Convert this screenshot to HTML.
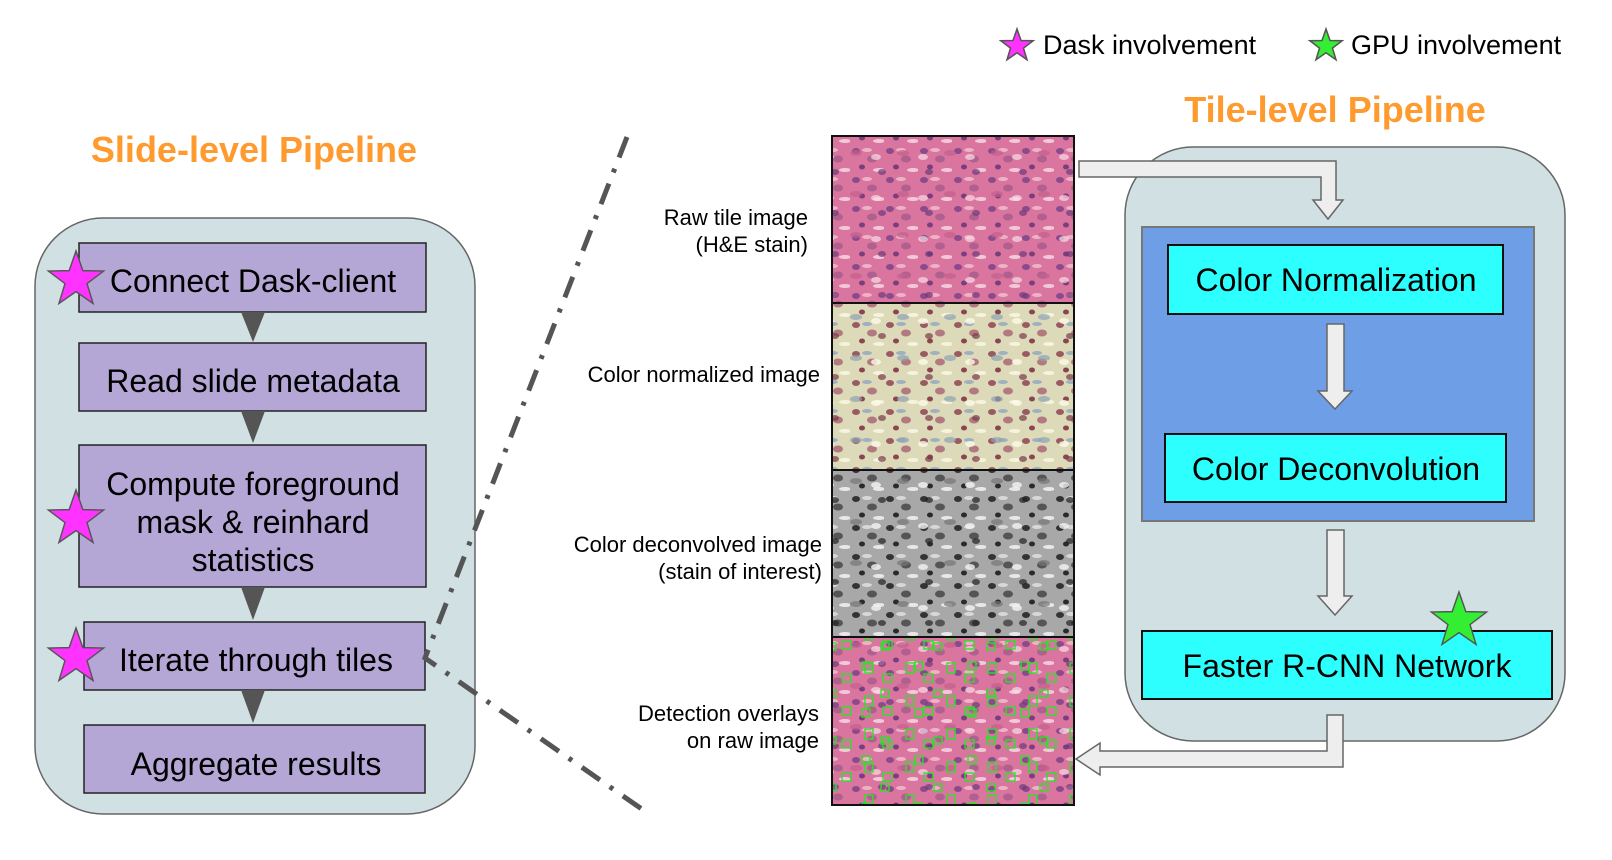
<!DOCTYPE html>
<html><head><meta charset="utf-8">
<style>
html,body{margin:0;padding:0;background:#fff;width:1612px;height:860px;overflow:hidden}
svg text{font-family:"Liberation Sans",Arial,sans-serif}
</style></head>
<body>
<svg width="1612" height="860" viewBox="0 0 1612 860" xmlns="http://www.w3.org/2000/svg">
<defs>
<polygon id="st" points="0,-1 0.235,-0.324 0.951,-0.309 0.380,0.124 0.588,0.809 0,0.4 -0.588,0.809 -0.380,0.124 -0.951,-0.309 -0.235,-0.324"/>
<pattern id="pinkA" width="34" height="29" patternUnits="userSpaceOnUse">
<rect width="34" height="29" fill="#d9759e"/>
<ellipse cx="6" cy="6" rx="4" ry="3" fill="#8a4a8c"/>
<ellipse cx="22" cy="14" rx="5" ry="3.5" fill="#b0608f"/>
<ellipse cx="12" cy="22" rx="3" ry="2.5" fill="#7a3d7e"/>
<ellipse cx="29" cy="25" rx="6" ry="2" fill="#f2c9d8"/>
<ellipse cx="17" cy="5" rx="5" ry="2" fill="#ecb3c7"/>
</pattern>
<pattern id="pinkB" width="47" height="41" patternUnits="userSpaceOnUse">
<ellipse cx="10" cy="30" rx="6" ry="3" fill="#c35f8c" opacity=".7"/>
<ellipse cx="36" cy="8" rx="4" ry="3" fill="#6d3a7c" opacity=".7"/>
<ellipse cx="30" cy="34" rx="5" ry="3" fill="#f7dde6" opacity=".7"/>
</pattern>
<pattern id="normA" width="34" height="29" patternUnits="userSpaceOnUse">
<rect width="34" height="29" fill="#dcdab8"/>
<ellipse cx="6" cy="6" rx="4" ry="3" fill="#9a5a62"/>
<ellipse cx="22" cy="14" rx="5" ry="3.5" fill="#b27a80"/>
<ellipse cx="12" cy="22" rx="3" ry="2.5" fill="#8a4550"/>
<ellipse cx="29" cy="25" rx="6" ry="2" fill="#f5f3dc"/>
<ellipse cx="17" cy="5" rx="5" ry="2" fill="#9fb0bf"/>
</pattern>
<pattern id="normB" width="47" height="41" patternUnits="userSpaceOnUse">
<ellipse cx="10" cy="30" rx="6" ry="3" fill="#8fa3b3" opacity=".7"/>
<ellipse cx="36" cy="8" rx="4" ry="3" fill="#7a3a48" opacity=".7"/>
<ellipse cx="30" cy="34" rx="5" ry="3" fill="#fbfae8" opacity=".8"/>
</pattern>
<pattern id="grayA" width="34" height="29" patternUnits="userSpaceOnUse">
<rect width="34" height="29" fill="#a8a8a8"/>
<ellipse cx="6" cy="6" rx="4" ry="3" fill="#333"/>
<ellipse cx="22" cy="14" rx="5" ry="3.5" fill="#555"/>
<ellipse cx="12" cy="22" rx="3" ry="2.5" fill="#2a2a2a"/>
<ellipse cx="29" cy="25" rx="6" ry="2" fill="#e8e8e8"/>
<ellipse cx="17" cy="5" rx="5" ry="2" fill="#d8d8d8"/>
</pattern>
<pattern id="grayB" width="47" height="41" patternUnits="userSpaceOnUse">
<ellipse cx="10" cy="30" rx="6" ry="3" fill="#777" opacity=".7"/>
<ellipse cx="36" cy="8" rx="4" ry="3" fill="#222" opacity=".7"/>
<ellipse cx="30" cy="34" rx="5" ry="3" fill="#f4f4f4" opacity=".8"/>
</pattern>
<pattern id="boxes" width="41" height="33" patternUnits="userSpaceOnUse">
<rect x="4" y="3" width="8" height="10" fill="none" stroke="#22e822" stroke-width="1.3"/>
<rect x="22" y="14" width="9" height="8" fill="none" stroke="#22e822" stroke-width="1.3"/>
</pattern>
<pattern id="boxes2" width="53" height="47" patternUnits="userSpaceOnUse">
<rect x="14" y="4" width="8" height="8" fill="none" stroke="#22e822" stroke-width="1.3"/>
<rect x="33" y="32" width="8" height="7" fill="none" stroke="#22e822" stroke-width="1.3"/>
</pattern>
</defs>

<!-- legend -->
<use href="#st" transform="translate(1017,46) scale(17)" fill="#ff33ff" stroke="#555" stroke-width="0.09"/>
<text x="1043" y="54" font-size="27" fill="#000">Dask involvement</text>
<use href="#st" transform="translate(1326,46) scale(17)" fill="#33ee33" stroke="#555" stroke-width="0.09"/>
<text x="1351" y="54" font-size="27" fill="#000">GPU involvement</text>

<!-- titles -->
<text x="254" y="162" font-size="36" font-weight="bold" fill="#ff9a2e" text-anchor="middle">Slide-level Pipeline</text>
<text x="1335" y="122" font-size="36" font-weight="bold" fill="#ff9a2e" text-anchor="middle">Tile-level Pipeline</text>

<!-- left container -->
<rect x="35" y="218" width="440" height="596" rx="68" fill="#d0e0e3" stroke="#666" stroke-width="1.5"/>
<g fill="#b4a7d6" stroke="#222" stroke-width="1.5">
<rect x="79" y="243" width="347" height="69"/>
<rect x="79" y="343" width="347" height="68"/>
<rect x="79" y="445" width="347" height="142"/>
<rect x="84" y="622" width="341" height="68"/>
<rect x="84" y="725" width="341" height="68"/>
</g>
<g fill="#555">
<polygon points="241,312 265,312 253,342"/>
<polygon points="241,411 265,411 253,443"/>
<polygon points="241,587 265,587 253,620"/>
<polygon points="241,690 265,690 253,723"/>
</g>
<g font-size="32" fill="#000" text-anchor="middle">
<text x="253" y="292">Connect Dask-client</text>
<text x="253" y="392">Read slide metadata</text>
<text x="253" y="495">Compute foreground</text>
<text x="253" y="533">mask &amp; reinhard</text>
<text x="253" y="571">statistics</text>
<text x="256" y="671">Iterate through tiles</text>
<text x="256" y="775">Aggregate results</text>
</g>
<g fill="#ff33ff" stroke="#555" stroke-width="0.05">
<use href="#st" transform="translate(76,280) scale(29)"/>
<use href="#st" transform="translate(76,519) scale(29)"/>
<use href="#st" transform="translate(76,657) scale(29)"/>
</g>

<!-- dash dot lines -->
<polyline points="627,137 425,658 646,812" fill="none" stroke="#555" stroke-width="5" stroke-dasharray="22,12,4,12"/>

<!-- tiles -->
<rect x="832" y="136" width="242" height="167" fill="url(#pinkA)"/>
<rect x="832" y="136" width="242" height="167" fill="url(#pinkB)"/>
<rect x="832" y="303" width="242" height="167" fill="url(#normA)"/>
<rect x="832" y="303" width="242" height="167" fill="url(#normB)"/>
<rect x="832" y="470" width="242" height="167" fill="url(#grayA)"/>
<rect x="832" y="470" width="242" height="167" fill="url(#grayB)"/>
<rect x="832" y="637" width="242" height="168" fill="url(#pinkA)"/>
<rect x="832" y="637" width="242" height="168" fill="url(#pinkB)"/>
<rect x="832" y="637" width="242" height="168" fill="url(#boxes)"/>
<rect x="832" y="637" width="242" height="168" fill="url(#boxes2)"/>
<g fill="none" stroke="#111" stroke-width="2">
<rect x="832" y="136" width="242" height="669"/>
<line x1="832" y1="303" x2="1074" y2="303"/>
<line x1="832" y1="470" x2="1074" y2="470"/>
<line x1="832" y1="637" x2="1074" y2="637"/>
</g>
<g font-size="22" fill="#000" text-anchor="end">
<text x="808" y="225">Raw tile image</text>
<text x="808" y="252">(H&amp;E stain)</text>
<text x="820" y="382">Color normalized image</text>
<text x="822" y="552">Color deconvolved image</text>
<text x="822" y="579">(stain of interest)</text>
<text x="819" y="721">Detection overlays</text>
<text x="819" y="748">on raw image</text>
</g>

<!-- right container -->
<rect x="1125" y="147" width="440" height="594" rx="68" fill="#d0e0e3" stroke="#666" stroke-width="1.5"/>
<rect x="1142" y="227" width="392" height="294" fill="#6d9ee6" stroke="#777" stroke-width="2"/>
<g fill="#2dffff" stroke="#111" stroke-width="2">
<rect x="1168" y="245" width="335" height="69"/>
<rect x="1165" y="434" width="341" height="68"/>
<rect x="1142" y="631" width="410" height="68"/>
</g>
<g font-size="32" fill="#000" text-anchor="middle">
<text x="1336" y="291">Color Normalization</text>
<text x="1336" y="480">Color Deconvolution</text>
<text x="1347" y="677">Faster R-CNN Network</text>
</g>
<g fill="#eeeeee" stroke="#666" stroke-width="1.5">
<polygon points="1079,161 1336,161 1336,200 1343,200 1328,219 1313,200 1321,200 1321,177 1079,177"/>
<polygon points="1327,324 1344,324 1344,391 1352,391 1335,409 1318,391 1327,391"/>
<polygon points="1327,530 1344,530 1344,596 1352,596 1335,615 1318,596 1327,596"/>
<polygon points="1327,715 1343,715 1343,767 1100,767 1100,775 1076,759 1100,743 1100,751 1327,751"/>
</g>
<use href="#st" transform="translate(1459,621) scale(29)" fill="#33ee33" stroke="#555" stroke-width="0.05"/>
</svg>
</body></html>
